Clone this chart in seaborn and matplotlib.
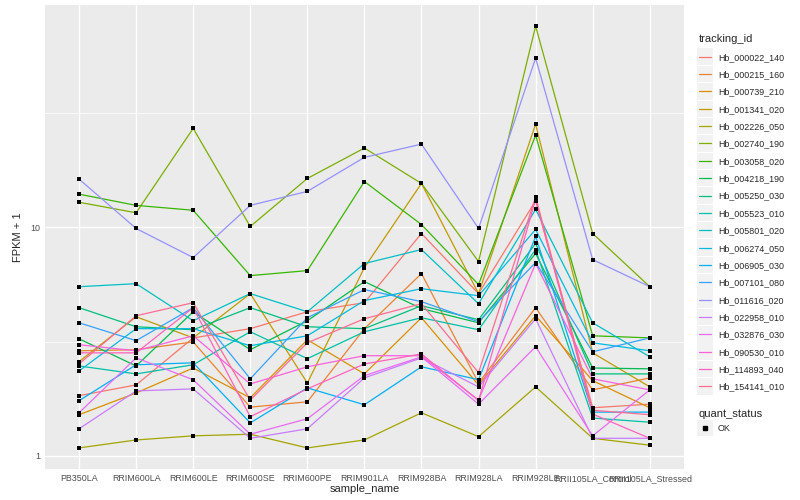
import numpy as np
import pandas as pd
import matplotlib
matplotlib.use("Agg")
import matplotlib.pyplot as plt
import seaborn as sns
from matplotlib.lines import Line2D
from matplotlib.patches import Rectangle
from matplotlib.ticker import NullFormatter

# samples on the x axis
samples = ['PB350LA', 'RRIM600LA', 'RRIM600LE', 'RRIM600SE', 'RRIM600PE',
           'RRIM901LA', 'RRIM928BA', 'RRIM928LA', 'RRIM928LE',
           'RRII105LA_Control', 'RRII105LA_Stressed']

# FPKM + 1 per gene (same order as samples)
hb_000022_140 = [1.83, 2.04, 3.28, 3.60, 4.27, 4.68, 9.41, 5.13, 13.1, 1.62, 1.68]
hb_000215_160 = [2.88, 2.91, 3.15, 1.63, 1.72, 3.60, 6.28, 2.08, 4.45, 1.94, 2.19]
hb_000739_210 = [1.51, 1.88, 2.42, 1.79, 3.22, 2.28, 4.02, 2.04, 4.10, 2.13, 1.62]
hb_001341_020 = [2.58, 4.06, 3.28, 5.13, 2.08, 6.67, 15.6, 5.13, 28.4, 2.82, 2.00]
hb_002226_050 = [1.08, 1.17, 1.22, 1.24, 1.08, 1.17, 1.54, 1.21, 2.00, 1.19, 1.11]
hb_002740_190 = [12.9, 11.6, 27.2, 10.1, 16.4, 22.3, 15.6, 7.09, 76.4, 9.41, 5.50]
hb_003058_020 = [14.0, 12.5, 11.9, 6.15, 6.47, 15.9, 10.3, 5.62, 25.4, 3.35, 3.28]
hb_004218_190 = [3.25, 2.47, 4.27, 2.91, 3.90, 5.79, 4.41, 3.82, 7.69, 2.42, 2.40]
hb_005250_030 = [4.45, 3.67, 3.56, 4.45, 3.67, 3.60, 4.54, 3.94, 8.51, 2.28, 2.28]
hb_005523_010 = [2.47, 2.28, 2.50, 3.49, 2.66, 3.49, 4.02, 3.56, 8.00, 1.46, 1.40]
hb_005801_020 = [5.50, 5.67, 3.90, 5.13, 4.27, 6.95, 8.00, 4.63, 12.0, 3.82, 2.71]
hb_006274_050 = [2.35, 3.60, 3.60, 3.03, 3.35, 4.78, 5.39, 5.02, 9.80, 3.12, 2.88]
hb_006905_030 = [1.74, 2.50, 2.55, 1.39, 1.98, 1.67, 2.45, 2.15, 9.13, 1.55, 1.55]
hb_007101_080 = [3.82, 3.19, 4.45, 2.17, 4.02, 5.34, 4.73, 3.86, 7.02, 2.85, 3.28]
hb_011616_020 = [16.3, 9.90, 7.38, 12.5, 14.4, 20.3, 23.2, 9.90, 55.3, 7.23, 5.50]
hb_022958_010 = [1.31, 1.92, 1.96, 1.19, 1.31, 2.19, 2.68, 2.00, 3.98, 1.19, 1.19]
hb_032876_030 = [1.54, 2.68, 2.15, 1.24, 1.45, 2.24, 2.71, 1.68, 3.00, 1.22, 1.94]
hb_090530_010 = [3.06, 2.88, 3.35, 2.06, 2.45, 2.74, 2.74, 1.75, 6.95, 2.17, 1.94]
hb_114893_040 = [2.82, 2.82, 4.45, 1.48, 1.96, 2.52, 2.79, 1.74, 13.3, 1.52, 1.19]
hb_154141_010 = [2.52, 4.10, 4.68, 1.75, 3.12, 3.98, 4.63, 2.31, 13.6, 1.58, 1.51]

tracking_ids = ['Hb_000022_140', 'Hb_000215_160', 'Hb_000739_210', 'Hb_001341_020',
                'Hb_002226_050', 'Hb_002740_190', 'Hb_003058_020', 'Hb_004218_190',
                'Hb_005250_030', 'Hb_005523_010', 'Hb_005801_020', 'Hb_006274_050',
                'Hb_006905_030', 'Hb_007101_080', 'Hb_011616_020', 'Hb_022958_010',
                'Hb_032876_030', 'Hb_090530_010', 'Hb_114893_040', 'Hb_154141_010']
gene_values = [hb_000022_140, hb_000215_160, hb_000739_210, hb_001341_020,
               hb_002226_050, hb_002740_190, hb_003058_020, hb_004218_190,
               hb_005250_030, hb_005523_010, hb_005801_020, hb_006274_050,
               hb_006905_030, hb_007101_080, hb_011616_020, hb_022958_010,
               hb_032876_030, hb_090530_010, hb_114893_040, hb_154141_010]

# ggplot2 hue palette for 20 levels
colors = ['#F8766D', '#EA8331', '#D89000', '#C09B00', '#A3A500', '#7CAE00',
          '#39B600', '#00BB4E', '#00BF7D', '#00C1A3', '#00BFC4', '#00BAE0',
          '#00B0F6', '#35A2FF', '#9590FF', '#C77CFF', '#E76BF3', '#FA62DB',
          '#FF62BC', '#FF6C91']

rows = []
for tid, vals in zip(tracking_ids, gene_values):
    for s, v in zip(samples, vals):
        rows.append({'tracking_id': tid, 'sample_name': s, 'fpkm': v, 'quant_status': 'OK'})
df = pd.DataFrame(rows)

sns.set_style("darkgrid", {"axes.facecolor": "#EBEBEB", "grid.color": "white"})
plt.rcParams['font.family'] = ['Liberation Sans', 'DejaVu Sans']

fig, ax = plt.subplots(figsize=(8, 5), dpi=100)
fig.subplots_adjust(left=0.056, right=0.855, top=0.99, bottom=0.062)

sns.lineplot(data=df, x='sample_name', y='fpkm', hue='tracking_id', palette=colors,
             estimator=None, sort=False, lw=0.9, legend=False, ax=ax)
sns.scatterplot(data=df, x='sample_name', y='fpkm', color='black', marker='s',
                s=9, linewidth=0, legend=False, ax=ax, zorder=3)

ax.set_yscale('log')
lo, hi = np.log10(df['fpkm'].min()), np.log10(df['fpkm'].max())
pad = 0.05 * (hi - lo)
ax.set_ylim(10 ** (lo - pad), 10 ** (hi + pad))
ax.set_xlim(-0.6, len(samples) - 0.4)
ax.set_yticks([1, 10])
ax.set_yticklabels(['1', '10'])
ax.set_yticks([10 ** 0.5, 10 ** 1.5], minor=True)
ax.yaxis.set_minor_formatter(NullFormatter())

ax.grid(which='major', color='white', lw=1.0)
ax.grid(which='minor', axis='y', color='white', lw=0.5)
ax.set_axisbelow(True)
for sp in ax.spines.values():
    sp.set_visible(False)
ax.tick_params(which='major', length=2, width=0.8, color='#333333',
               labelsize=6.4, labelcolor='#4D4D4D', pad=1.5)
ax.tick_params(which='minor', length=0)
ax.set_xlabel('sample_name', fontsize=8, labelpad=1)
ax.set_ylabel('FPKM + 1', fontsize=8, labelpad=5)

# legends, ggplot style
line_handles = [Line2D([], [], color=c, lw=0.9) for c in colors]
leg1 = fig.legend(line_handles, tracking_ids, title='tracking_id', loc='upper left',
                  bbox_to_anchor=(0.868, 0.94), frameon=False, fontsize=6.4,
                  title_fontsize=8, handlelength=1.4, handletextpad=0.75,
                  labelspacing=0.94, alignment='left', borderpad=0)
pt_handle = [Line2D([], [], color='black', marker='s', ls='', markersize=2.6)]
leg2 = fig.legend(pt_handle, ['OK'], title='quant_status', loc='upper left',
                  bbox_to_anchor=(0.868, 0.19), frameon=False, fontsize=6.4,
                  title_fontsize=8, handlelength=1.4, handletextpad=0.75,
                  alignment='left', borderpad=0)

fig.canvas.draw()
renderer = fig.canvas.get_renderer()
W, H = fig.bbox.width, fig.bbox.height
for leg in (leg1, leg2):
    for h in leg.legend_handles:
        bb = h.get_window_extent(renderer)
        cx, cy = (bb.x0 + bb.x1) / 2, (bb.y0 + bb.y1) / 2
        size = 16.5
        fig.patches.append(Rectangle(((cx - size / 2) / W, (cy - size / 2) / H),
                                     size / W, size / H, transform=fig.transFigure,
                                     facecolor='#F2F2F2', edgecolor='none', zorder=0))

fig.savefig('out.png', dpi=100)
